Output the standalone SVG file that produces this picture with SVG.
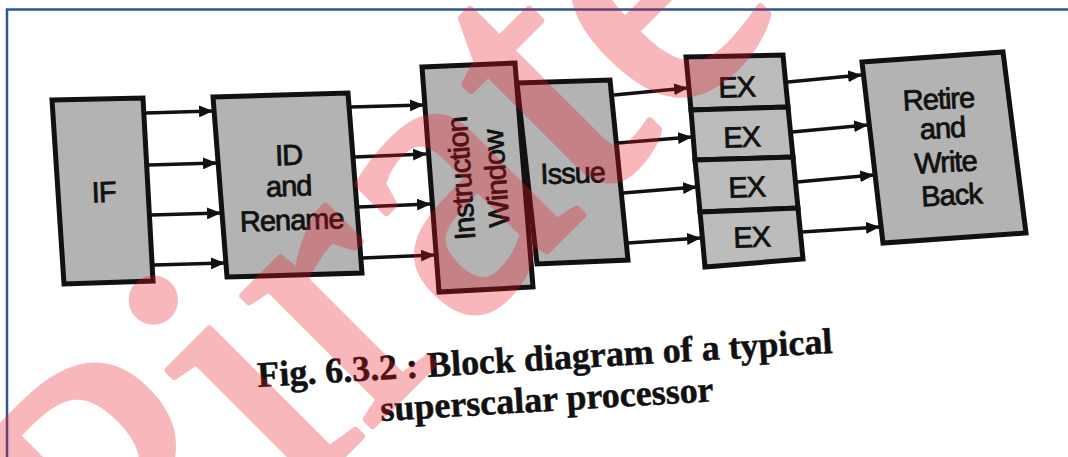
<svg xmlns="http://www.w3.org/2000/svg" width="1068" height="457" viewBox="0 0 1068 457">
<defs>
<marker id="ah" viewBox="0 0 14 12" refX="13" refY="6" markerWidth="14" markerHeight="12" markerUnits="userSpaceOnUse" orient="auto">
<path d="M0,0 L14,6 L0,12 z" fill="#111"/>
</marker>
</defs>
<style>
.box{fill:#b3b3b3;stroke:#111;stroke-width:5;stroke-linejoin:miter}
.exbox{fill:#bcbcbc;stroke:#111;stroke-width:5}
.lbl{font-family:"Liberation Sans",Arial,sans-serif;font-size:29px;fill:#111;stroke:#111;stroke-width:0.8;letter-spacing:-1px;text-anchor:middle}
.conn line{stroke:#111;stroke-width:3.5;marker-end:url(#ah)}
.cap{font-family:"Liberation Serif","Times New Roman",serif;font-weight:bold;font-size:36px;fill:#111;stroke:#111;stroke-width:0.5}
.wm{font-family:"Liberation Serif","Times New Roman",serif;font-size:400px;fill:rgb(235,20,35);stroke:rgb(235,20,35);stroke-width:7;stroke-linejoin:round}
</style>
<rect width="1068" height="457" fill="#fff"/>
<path d="M7,457 L7,9.5 L1068,9.5" fill="none" stroke="#2f5597" stroke-width="2.5"/>

<g id="IF">
<polygon class="box" points="52,100 143,98 153,281 64,284"/>
<text class="lbl" x="104" y="202" transform="rotate(-2 104 202)">IF</text>
</g>
<g id="ID">
<polygon class="box" points="213,97 348,93 362,273 227,277"/>
<text class="lbl" x="289" y="165" transform="rotate(-2 289 165)">ID</text>
<text class="lbl" x="289" y="196" transform="rotate(-2 289 196)">and</text>
<text class="lbl" x="292" y="230" transform="rotate(-2 292 230)">Rename</text>
</g>
<g id="Issue">
<polygon class="box" points="517,83 610,80 628,260 537,264"/>
<text class="lbl" x="573" y="183" transform="rotate(-2 573 183)">Issue</text>
</g>
<g id="IW">
<polygon class="box" points="422,67 515,63 533,287 439,292"/>
<text class="lbl" transform="translate(471,178) rotate(-94)">Instruction</text>
<text class="lbl" transform="translate(506,178) rotate(-94)">Window</text>
</g>
<g id="EX1">
<polygon class="exbox" points="686,57 783,55 788,107 691,110"/>
<text class="lbl" x="737" y="97" transform="rotate(-2 737 97)">EX</text>
</g>
<g id="EX2">
<polygon class="exbox" points="691,110 788,107 793,157 695,160"/>
<text class="lbl" x="742" y="147" transform="rotate(-2 742 147)">EX</text>
</g>
<g id="EX3">
<polygon class="exbox" points="695,160 793,157 798,208 700,212"/>
<text class="lbl" x="747" y="197" transform="rotate(-2 747 197)">EX</text>
</g>
<g id="EX4">
<polygon class="exbox" points="700,212 798,208 803,259 705,267"/>
<text class="lbl" x="752" y="247" transform="rotate(-2 752 247)">EX</text>
</g>
<g id="Retire">
<polygon class="box" points="862,62 1003,52 1026,233 883,243"/>
<text class="lbl" x="939" y="109" transform="rotate(-3 939 109)">Retire</text>
<text class="lbl" x="943" y="138" transform="rotate(-3 943 138)">and</text>
<text class="lbl" x="946" y="172" transform="rotate(-3 946 172)">Write</text>
<text class="lbl" x="952" y="205" transform="rotate(-3 952 205)">Back</text>
</g>

<g id="connectors" class="conn">
<line x1="146" y1="113" x2="212" y2="111"/>
<line x1="149" y1="165" x2="216" y2="163"/>
<line x1="151" y1="215" x2="220" y2="213"/>
<line x1="154" y1="265" x2="224" y2="263"/>
<line x1="351" y1="107" x2="423" y2="105"/>
<line x1="355" y1="157" x2="426" y2="154"/>
<line x1="359" y1="207" x2="430" y2="204"/>
<line x1="363" y1="258" x2="434" y2="255"/>
<line x1="614" y1="95" x2="687" y2="88"/>
<line x1="618" y1="143" x2="691" y2="137"/>
<line x1="623" y1="193" x2="696" y2="187"/>
<line x1="628" y1="243" x2="700" y2="238"/>
<line x1="788" y1="82" x2="861" y2="75"/>
<line x1="792" y1="132" x2="867" y2="125"/>
<line x1="797" y1="182" x2="873" y2="175"/>
<line x1="802" y1="232" x2="879" y2="227"/>
</g>

<g id="caption">
<text class="cap" x="258" y="387" transform="rotate(-3.4 258 387)">Fig. 6.3.2 : Block diagram of a typical</text>
<text class="cap" x="381" y="421" transform="rotate(-3.4 381 421)">superscalar processor</text>
</g>

<g id="watermark" opacity="0.3">
<text class="wm" transform="translate(131,667) rotate(-45)">Pirate</text>
</g>
</svg>
